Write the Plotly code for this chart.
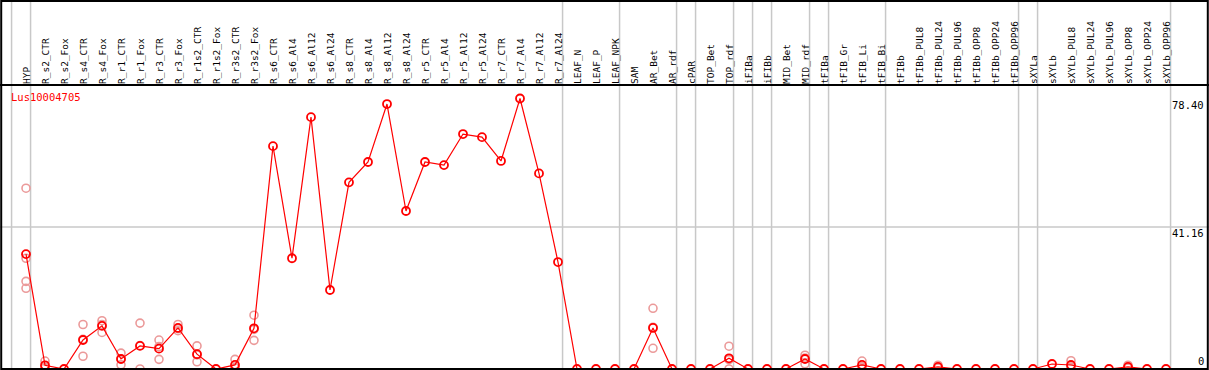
import plotly.graph_objects as go

categories = [
    "HYP", "R_s2_CTR", "R_s2_Fox", "R_s4_CTR", "R_s4_Fox", "R_r1_CTR", "R_r1_Fox",
    "R_r3_CTR", "R_r3_Fox", "R_r1s2_CTR", "R_r1s2_Fox", "R_r3s2_CTR", "R_r3s2_Fox",
    "R_s6_CTR", "R_s6_Al4", "R_s6_Al12", "R_s6_Al24", "R_s8_CTR", "R_s8_Al4",
    "R_s8_Al12", "R_s8_Al24", "R_r5_CTR", "R_r5_Al4", "R_r5_Al12", "R_r5_Al24",
    "R_r7_CTR", "R_r7_Al4", "R_r7_Al12", "R_r7_Al24", "LEAF_N", "LEAF_P", "LEAF_NPK",
    "SAM", "AR_Bet", "AR_rdf", "cPAR", "TOP_Bet", "TOP_rdf", "iFIBa", "iFIBb",
    "MID_Bet", "MID_rdf", "tFIBa", "tFIB_Gr", "tFIB_Li", "tFIB_Bi", "tFIBb",
    "tFIBb_PUL8", "tFIBb_PUL24", "tFIBb_PUL96", "tFIBb_OPP8", "tFIBb_OPP24",
    "tFIBb_OPP96", "sXYLa", "sXYLb", "sXYLb_PUL8", "sXYLb_PUL24", "sXYLb_PUL96",
    "sXYLb_OPP8", "sXYLb_OPP24", "sXYLb_OPP96",
]

mean_values = [
    33.3, 1.07, 0, 8.4, 12.5, 2.9, 6.7, 5.9, 11.9, 4.3, 0, 1.2, 11.8,
    64.6, 32.1, 73.0, 22.9, 54.1, 60.0, 76.8, 45.8, 60.0, 59.1, 68.1, 67.2,
    60.3, 78.4, 56.7, 31.0, 0, 0, 0,
    0, 11.9, 0, 0, 0, 3.1, 0, 0,
    0, 2.9, 0, 0, 1.2, 0, 0,
    0, 0.6, 0, 0, 0, 0,
    0, 1.45, 1.16, 0, 0, 0.6, 0, 0,
]

rep_categories = [
    "HYP", "R_s2_CTR", "R_s4_CTR", "R_s4_Fox", "R_r1_CTR", "R_r1_Fox", "R_r3_CTR",
    "R_r3_Fox", "R_r1s2_CTR", "R_r3s2_CTR", "R_r3s2_Fox", "AR_Bet", "TOP_rdf",
    "MID_rdf", "tFIB_Li", "tFIBb_PUL24", "sXYLb_PUL8", "sXYLb_OPP8",
]
rep_values = [
    [52.4, 32.1, 25.4, 23.4], [2.3, 0.5, 0.4], [12.9, 8.6, 3.7], [14.0, 12.9, 10.6],
    [4.6, 2.9, 1.2], [13.3, 6.8, 0.0], [8.4, 6.5, 2.8], [12.9, 11.7, 11.1],
    [6.7, 4.1, 2.1], [2.8, 0.4, 0.4], [15.6, 11.5, 8.3], [17.6, 12.1, 6.0],
    [6.6, 2.7, 0.0], [4.0, 3.2, 1.5], [2.3, 0.7, 0.6], [1.1, 0.4, 0.3],
    [2.4, 0.6, 0.5], [1.1, 0.4, 0.3],
]

group_sizes = [1, 28, 3, 3, 1, 2, 1, 1, 2, 1, 3, 7, 1, 7]

y_tick_values = [78.40, 41.16, 0]
y_tick_labels = ["78.40", "41.16", "0"]
gene_name = "Lus10004705"

W, H = 1209, 370
FONT = "DejaVu Sans Mono"
GRID = "#c8c8c8"

rep_x, rep_y = [], []
for cat, vals in zip(rep_categories, rep_values):
    for v in vals:
        rep_x.append(cat)
        rep_y.append(v)

fig = go.Figure()
fig.add_trace(go.Scatter(
    x=rep_x, y=rep_y, mode="markers",
    marker=dict(symbol="circle-open", size=8, color="#eb9a9a", line=dict(width=1.6)),
    hoverinfo="skip", showlegend=False,
))
fig.add_trace(go.Scatter(
    x=categories, y=mean_values, mode="lines+markers",
    line=dict(color="#ff0000", width=1.2),
    marker=dict(symbol="circle-open", size=8, color="#ff0000", line=dict(width=1.8)),
    showlegend=False,
))

shapes = []
bounds = [-1]
acc = -1
for g in group_sizes:
    acc += g
    bounds.append(acc)
for b in bounds:
    shapes.append(dict(type="line", xref="x", yref="paper", x0=b + 0.24, x1=b + 0.24,
                       y0=0, y1=1, line=dict(color=GRID, width=1.5), layer="below"))
shapes.append(dict(type="line", xref="paper", yref="y", x0=0, x1=1,
                   y0=y_tick_values[1], y1=y_tick_values[1],
                   line=dict(color=GRID, width=1.5), layer="below"))
top_frac = 285 / H
shapes.append(dict(type="line", xref="paper", yref="paper", x0=0, x1=1,
                   y0=top_frac, y1=top_frac, line=dict(color="black", width=2)))
shapes.append(dict(type="rect", xref="paper", yref="paper", x0=0.001, x1=0.999,
                   y0=0.003, y1=0.997, line=dict(color="black", width=2)))

annotations = [dict(text=gene_name, xref="paper", yref="paper", x=9 / W, y=(H - 97) / H,
                    xanchor="left", yanchor="middle", showarrow=False,
                    font=dict(family=FONT, size=10.5, color="#ff0000"))]
for v, t in zip(y_tick_values, y_tick_labels):
    if v == 0:
        ya, ys = "bottom", 0
    else:
        ya, ys = "top", 2
    annotations.append(dict(text=t, xref="paper", yref="y", x=1, y=v, xanchor="right",
                            xshift=-3, yanchor=ya, yshift=ys, showarrow=False,
                            font=dict(family=FONT, size=10.5, color="black")))

ppu = 3.45
ymin = -1 / ppu
ymax = ymin + 285 / ppu
xmin = -26 / 19
xmax = xmin + W / 19

fig.update_layout(
    width=W, height=H,
    margin=dict(l=0, r=0, t=0, b=0),
    paper_bgcolor="white", plot_bgcolor="white",
    xaxis=dict(type="category", categoryorder="array", categoryarray=categories,
               range=[xmin, xmax], side="top", tickangle=-90,
               tickmode="array", tickvals=categories, ticktext=categories,
               tickfont=dict(family=FONT, size=9.5, color="black"),
               showgrid=False, zeroline=False, showline=False, ticks="",
               ticklabelstandoff=0, ticklabelshift=1),
    yaxis=dict(domain=[0, top_frac], range=[ymin, ymax], showgrid=False,
               zeroline=False, showline=False, showticklabels=False, ticks=""),
    shapes=shapes,
    annotations=annotations,
)

fig.write_html(
    "out.html",
    config={"displayModeBar": False},
    post_script="document.body.style.margin='0';document.body.style.overflow='hidden';",
)
